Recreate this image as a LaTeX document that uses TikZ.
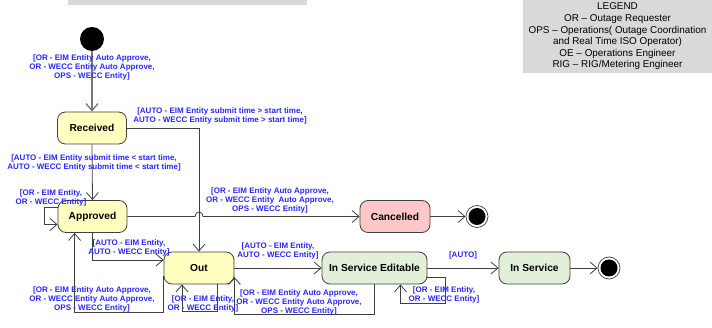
\documentclass[tikz,border=0pt]{standalone}
\usepackage{fontspec}
\setmainfont{Liberation Sans}
\usepackage{tikz}
\usetikzlibrary{arrows.meta}
\usepackage{xcolor}
\definecolor{stline}{RGB}{64,64,64}
\definecolor{stinit}{RGB}{120,120,120}
\definecolor{styellow}{RGB}{255,255,192}
\definecolor{stpink}{RGB}{255,199,199}
\definecolor{stgreen}{RGB}{227,240,217}
\definecolor{guardblue}{RGB}{40,40,255}
\definecolor{legendgray}{RGB}{217,217,217}

\begin{document}
\begin{tikzpicture}[x=1pt,y=-1pt,font=\sffamily]

\tikzset{
  state/.style={
    draw=stline,
    rounded corners=8pt,
    line width=0.8pt,
    minimum height=32pt,
    inner sep=2pt,
    font=\bfseries\fontsize{10.2}{12}\selectfont
  },
  startstate/.style={
    circle,
    fill=black,
    minimum size=24pt,
    inner sep=0pt
  },
  endstate/.style={
    circle,
    draw=stline,
    fill=white,
    line width=0.7pt,
    minimum size=22pt,
    inner sep=0pt,
    path picture={\fill[black] (path picture bounding box.center) circle (8.5pt);}
  },
  guard/.style={
    text=guardblue,
    align=center,
    inner sep=0pt,
    font=\bfseries\fontsize{8}{9}\selectfont
  },
  trans/.style={
    draw=stline,
    line width=0.8pt,
    -{Straight Barb[length=7pt,width=12pt]}
  },
  inittrans/.style={
    draw=stinit,
    line width=1.3pt,
    -{Straight Barb[length=7pt,width=12pt]}
  }
}

% canvas
\useasboundingbox (0,0) rectangle (712,328);
\fill[white] (0,0) rectangle (712,328);

% title band (cut at the top)
\fill[legendgray] (68,0) rectangle (307,5);

% legend
\node[fill=legendgray,minimum width=189pt,minimum height=73pt,inner sep=0pt,
  align=center,font=\fontsize{9.9}{11.6}\selectfont] (legend) at (617.5,36.5)
  {LEGEND\\
   OR -- Outage Requester\\
   OPS -- Operations( Outage Coordination\\
   and Real Time ISO Operator)\\
   OE -- Operations Engineer\\
   RIG -- RIG/Metering Engineer};

% states
\node[startstate] (init) at (92,39) {};
\node[state,fill=styellow,minimum width=69pt] (rcv) at (92,128) {Received};
\node[state,fill=styellow,minimum width=69pt] (apv) at (92.5,216.5) {Approved};
\node[state,fill=stpink,minimum width=70pt] (cnc) at (395,216.5) {Cancelled};
\node[endstate] (fin1) at (477,216.5) {};
\node[state,fill=styellow,minimum width=70pt] (out) at (199,268) {Out};
\node[state,fill=stgreen,minimum width=105pt] (ise) at (374.5,268) {In Service Editable};
\node[state,fill=stgreen,minimum width=71pt] (isv) at (534.5,268) {In Service};
\node[endstate] (fin2) at (609,268) {};

% transitions
\draw[inittrans] (init) -- (rcv.north);
\draw[trans] (rcv.south) -- (apv.north);
\draw[trans] (rcv.east) -| (out.north);

% approved self loop
\draw[trans] ([yshift=9pt]apv.west) -- ++(-13,0) |- ([yshift=-8pt]apv.west);

% approved to cancelled, hopping over the received line
\coordinate (hop) at (out.north |- apv.east);
\draw[trans] (apv.east) -- ([xshift=-4pt]hop)
  .. controls ([xshift=-4pt,yshift=6pt]hop) and ([xshift=4pt,yshift=6pt]hop) ..
  ([xshift=4pt]hop) -- (cnc.west);
\draw[trans] (cnc.east) -- (fin1.west);

\draw[trans] (apv.south) |- ([yshift=8pt]out.west);
\draw[trans] ([yshift=-8pt]out.west) -- ++(0,36) -| ([xshift=17pt]apv.south west);

% out self loop
\draw[trans] ([xshift=18pt]out.south) -- ++(0,27) -| ([xshift=-17pt]out.south);

\draw[trans] (out.east) -- (ise.west);
\draw[trans] (ise.south) -- ++(0,30) -| ([yshift=-9pt]out.east);

% in service editable self loop
\draw[trans] ([yshift=-9pt]ise.east) -- ++(18,0) -- ++(0,26) -| ([xshift=26pt]ise.south);

\draw[trans] (ise.east) -- (isv.west);
\draw[trans] (isv.east) -- (fin2.west);

% guards
\node[guard] (g1) at (92,67)
  {[OR - EIM Entity Auto Approve,\\OR - WECC Entity Auto Approve,\\OPS - WECC Entity]};
\node[guard] (g2) at (220,115.5)
  {[AUTO - EIM Entity submit time > start time,\\AUTO - WECC Entity submit time > start time]};
\node[guard] (g3) at (94,162.5)
  {[AUTO - EIM Entity submit time < start time,\\AUTO - WECC Entity submit time < start time]};
\node[guard] (g4) at (51,197.5)
  {[OR - EIM Entity,\\OR - WECC Entity]};
\node[guard] (g5) at (270,200.5)
  {[OR - EIM Entity Auto Approve,\\OR - WECC Entity\ \ Auto Approve,\\OPS - WECC Entity]};
\node[guard] (g6) at (129,247.5)
  {[AUTO - EIM Entity,\\AUTO - WECC Entity]};
\node[guard] (g7) at (92,299)
  {[OR - EIM Entity Auto Approve,\\OR - WECC Entity Auto Approve,\\OPS - WECC Entity]};
\node[guard] (g8) at (203,303.5)
  {[OR - EIM Entity,\\OR - WECC Entity]};
\node[guard] (g9) at (278,250.5)
  {[AUTO - EIM Entity,\\AUTO - WECC Entity]};
\node[guard] (g10) at (299,302)
  {[OR - EIM Entity Auto Approve,\\OR - WECC Entity Auto Approve,\\OPS - WECC Entity]};
\node[guard] (g11) at (444,294.5)
  {[OR - EIM Entity,\\OR - WECC Entity]};
\node[guard] (g12) at (463,255) {[AUTO]};

\end{tikzpicture}
\end{document}
